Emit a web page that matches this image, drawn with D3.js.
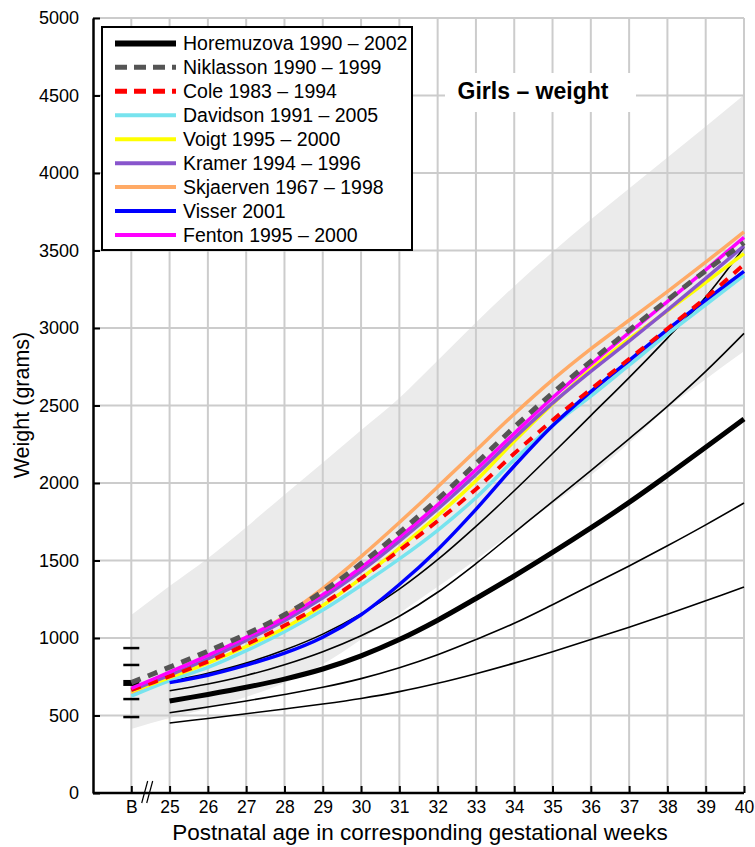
<!DOCTYPE html>
<html><head><meta charset="utf-8">
<script src="https://cdn.jsdelivr.net/npm/d3@7"></script>
<style>body{margin:0;background:#fff}svg{display:block}text{font-family:"Liberation Sans",Arial,sans-serif}</style>
</head><body>
<svg id="c" width="755" height="847"></svg>
<script>
// ---- data ----
const weeks = [24,25,26,27,28,29,30,31,32,33,34,35,36,37,38,39,40]; // 24 = "B" (birth)
const weekLabels = ["B","25","26","27","28","29","30","31","32","33","34","35","36","37","38","39","40"];
const yTicks = [0,500,1000,1500,2000,2500,3000,3500,4000,4500,5000];
const pctWeeks = [25,26,27,28,29,30,31,32,33,34,35,36,37,38,39,40];

const bandUpper = [1148,1335,1515,1715,1925,2130,2340,2548,2790,3035,3270,3490,3700,3900,4100,4300,4503];
const bandLower = [413,484,545,620,710,830,990,1160,1330,1505,1690,1865,2050,2260,2484,2670,2850];

const horemP3  = [452,481,511,542,574,610,654,708,770,838,912,990,1070,1153,1240,1329];
const horemP10 = [518,555,594,636,682,738,808,892,990,1095,1215,1340,1465,1595,1730,1871];
const horemP50 = [594,636,682,735,800,885,990,1115,1255,1400,1552,1710,1875,2050,2230,2413];
const horemP90 = [660,703,758,828,912,1015,1140,1295,1480,1680,1880,2080,2285,2495,2720,2965];
const horemP97 = [720,772,838,922,1025,1155,1315,1505,1720,1950,2190,2435,2680,2935,3200,3520];
const horemBirth = [490,606,710,826,935];

const skjaerven = [645,755,865,990,1140,1320,1525,1745,1975,2210,2445,2665,2865,3050,3235,3425,3620];
const niklasson = [712,812,915,1025,1150,1300,1480,1680,1895,2125,2360,2580,2785,2985,3180,3370,3550];
const fenton    = [675,780,888,1005,1130,1280,1455,1650,1860,2085,2320,2550,2765,2970,3170,3375,3585];
const kramer    = [662,760,866,985,1112,1260,1432,1625,1832,2055,2290,2515,2720,2915,3115,3320,3530];
const voigt     = [655,745,838,945,1065,1210,1385,1580,1790,2015,2270,2510,2735,2930,3110,3295,3480];
const cole      = [665,752,848,958,1080,1220,1385,1565,1755,1960,2190,2405,2605,2800,2995,3195,3410];
const davidson  = [625,725,810,918,1040,1180,1340,1510,1695,1905,2150,2370,2560,2760,2960,3150,3340];
const visser    = [null,712,760,825,902,1005,1150,1345,1570,1830,2110,2370,2590,2790,2990,3180,3365];

const legendNames = ["Horemuzova 1990 \u2013 2002","Niklasson 1990 \u2013 1999","Cole 1983 \u2013 1994","Davidson 1991 \u2013 2005","Voigt 1995 \u2013 2000","Kramer 1994 \u2013 1996","Skjaerven 1967 \u2013 1998","Visser 2001","Fenton 1995 \u2013 2000"];
const legendColors = ["#000000","#555555","#ff0000","#77e3ee","#ffff00","#8855cc","#ffaa66","#0000ff","#ff00ff"];

// ---- layout ----
const svg = d3.select("#c");
const x = d3.scaleLinear().domain([23,40]).range([93,744]);
const y = d3.scaleLinear().domain([0,5000]).range([793,18]);

// band
const bandData = weeks.map((w,i)=>({w, lo: bandLower[i], hi: bandUpper[i]}));
svg.append("path").datum(bandData)
  .attr("fill","#ebebeb")
  .attr("d", d3.area().x(d=>x(d.w)).y0(d=>y(d.lo)).y1(d=>y(d.hi)).curve(d3.curveMonotoneX));

// grid
const grid = svg.append("g").attr("stroke","#cccccc").attr("stroke-width",2);
weeks.forEach(w=>grid.append("line").attr("x1",x(w)).attr("x2",x(w)).attr("y1",y(5000)).attr("y2",y(0)));
yTicks.slice(1).forEach(v=>grid.append("line").attr("x1",x(23)).attr("x2",x(40)).attr("y1",y(v)).attr("y2",y(v)));

// title box
svg.append("rect").attr("x",445).attr("y",73).attr("width",191).attr("height",39).attr("fill","#fff");
svg.append("text").attr("x",533).attr("y",99).attr("text-anchor","middle")
  .attr("font-size",23).attr("font-weight","bold").text("Girls \u2013 weight");

const line = d3.line().defined(d=>d[1]!=null).x(d=>x(d[0])).y(d=>y(d[1])).curve(d3.curveCatmullRom.alpha(0.5));

// Horemuzova percentiles
[[horemP3,1.6],[horemP10,1.6],[horemP90,1.6],[horemP97,1.6],[horemP50,5]].forEach(([arr,sw])=>{
  svg.append("path").datum(pctWeeks.map((w,i)=>[w,arr[i]]))
    .attr("fill","none").attr("stroke","#000").attr("stroke-width",sw).attr("d",line);
});
horemBirth.forEach((v,i)=>{
  svg.append("line").attr("x1",x(24)-8).attr("x2",x(24)+8).attr("y1",y(v)).attr("y2",y(v))
    .attr("stroke","#000").attr("stroke-width", i===2?6:2.5);
});

// comparison curves
const series = [
  [skjaerven,"#ffaa66",3.5,null],
  [davidson,"#77e3ee",3.5,null],
  [voigt,"#ffff00",3.5,null],
  [kramer,"#8855cc",3.5,null],
  [visser,"#0000ff",3.5,null],
  [cole,"#ff0000",4,"10,8"],
  [fenton,"#ff00ff",3.5,null],
  [niklasson,"#555555",5,"10,8"]
];
series.forEach(([arr,col,sw,dash])=>{
  const p = svg.append("path").datum(weeks.map((w,i)=>[w,arr[i]]))
    .attr("fill","none").attr("stroke",col).attr("stroke-width",sw).attr("d",line);
  if(dash) p.attr("stroke-dasharray",dash);
});

// axes
const xAxis = d3.axisBottom(x).tickValues(weeks).tickFormat((d,i)=>weekLabels[i]).tickSizeInner(-7).tickSizeOuter(0).tickPadding(8);
const gx = svg.append("g").attr("transform",`translate(0,${y(0)})`).call(xAxis);
gx.select(".domain").attr("stroke-width",2.5).attr("d",`M${x(23)},0H${x(40)}`);
gx.selectAll(".tick line").attr("stroke-width",2);
gx.selectAll("text").attr("font-size",17.5).attr("fill","#000").attr("font-family","Liberation Sans, Arial, sans-serif");

const yAxis = d3.axisLeft(y).tickValues(yTicks).tickFormat(d3.format("d")).tickSizeInner(-7).tickSizeOuter(0).tickPadding(14);
const gy = svg.append("g").attr("transform",`translate(${x(23)},0)`).call(yAxis);
gy.select(".domain").attr("stroke-width",2.5);
gy.selectAll(".tick line").attr("stroke-width",2);
gy.selectAll("text").attr("font-size",18).attr("fill","#000").attr("font-family","Liberation Sans, Arial, sans-serif");

// axis break
[0,5].forEach(dx=>{
  svg.append("line").attr("x1",x(24.35)+dx-3).attr("x2",x(24.35)+dx+3).attr("y1",y(0)+10).attr("y2",y(0)-12)
    .attr("stroke","#000").attr("stroke-width",1.2);
});

// axis titles
svg.append("text").attr("x",420).attr("y",840).attr("text-anchor","middle").attr("font-size",22.5)
  .text("Postnatal age in corresponding gestational weeks");
svg.append("text").attr("transform","translate(29,405) rotate(-90)").attr("text-anchor","middle").attr("font-size",21.5)
  .text("Weight (grams)");

// legend
const lg = svg.append("g");
lg.append("rect").attr("x",102).attr("y",27).attr("width",310).attr("height",223)
  .attr("fill","#fff").attr("stroke","#000").attr("stroke-width",2);
legendNames.forEach((n,i)=>{
  const yy = 43.4 + i*23.95;
  const l = lg.append("line").attr("x1",115).attr("x2",176).attr("y1",yy).attr("y2",yy)
    .attr("stroke",legendColors[i]).attr("stroke-width", i===0?6:(i<3?5:4));
  if(i===1||i===2) l.attr("stroke-dasharray","12,7");
  lg.append("text").attr("x",183).attr("y",yy).attr("dy","0.36em").attr("font-size",19.5).text(n);
});
</script>
</body></html>
